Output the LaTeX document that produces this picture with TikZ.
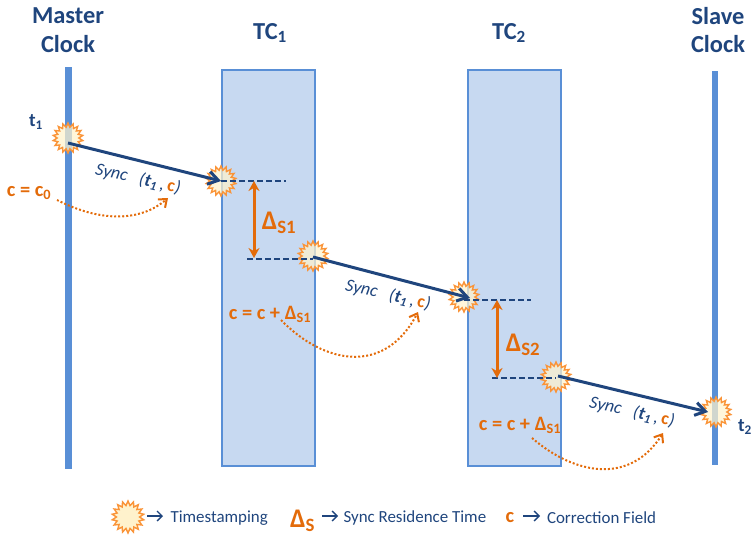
\documentclass[tikz,border=0pt]{standalone}
\usepackage{fontspec}
\setmainfont{Carlito}
\usetikzlibrary{arrows.meta,shapes.geometric}
\definecolor{syncblau}{rgb}{0.12,0.27,0.49}
\definecolor{corrorange}{rgb}{0.89,0.42,0.04}
\definecolor{barblau}{rgb}{0.35,0.56,0.84}
\definecolor{tcblau}{rgb}{0.78,0.85,0.945}
\definecolor{sternrand}{rgb}{0.98,0.58,0.22}
\definecolor{sterngelb}{rgb}{1.0,0.95,0.80}
\newcommand{\fsize}[1]{\fontsize{#1}{#1}\selectfont}
\tikzset{
  stamp/.style={star,star points=18,star point ratio=1.38,minimum size=30bp,inner sep=0pt,
    draw=sternrand,line width=1.4bp,fill=sterngelb,fill opacity=0.72},
  clockbar/.style={fill=barblau,draw=none},
  tcbox/.style={fill=tcblau,draw=barblau,line width=1.5bp},
  syncarrow/.style={line width=3bp,syncblau,-{Straight Barb[length=10bp,width=13bp]}},
  residence/.style={line width=3bp,corrorange,{Stealth[length=10bp,width=11bp]}-{Stealth[length=10bp,width=11bp]}},
  dashline/.style={line width=1.9bp,syncblau,dash pattern=on 6bp off 3bp},
  corrcurve/.style={line width=2bp,corrorange,dash pattern=on 2bp off 2bp,-{Straight Barb[length=7bp,width=11bp]}},
  headtext/.style={font=\bfseries\fsize{24.5},text=syncblau,align=center},
  corrtext/.style={font=\bfseries\fsize{20.5},text=corrorange},
  deltatext/.style={font=\bfseries\fsize{27},text=corrorange},
  synctext/.style={font=\fsize{18},text=syncblau,rotate=-13},
  stamplabel/.style={font=\bfseries\fsize{19},text=syncblau},
  legendtext/.style={font=\fsize{17},text=syncblau,anchor=west},
  legendarrow/.style={line width=1.4bp,syncblau,-{Straight Barb[length=5bp,width=10bp]}},
}
\newcommand{\sublbl}[1]{\textsubscript{#1}}
\newcommand{\synclbl}{\textit{Sync\ \ \ (\textbf{t\sublbl{1}}\,,\,\textbf{\textcolor{corrorange}{\upshape c}})}}
\begin{document}
\begin{tikzpicture}[yscale=-1,x=1bp,y=1bp]
  \useasboundingbox (0,0) rectangle (752,537);

  % --- Zeitachsen ---
  \fill[clockbar] (65,67) rectangle (72,469);
  \draw[tcbox] (222,70) rectangle (315,466);
  \draw[tcbox] (468,70) rectangle (561,466);
  \fill[clockbar] (712,71) rectangle (718,465);

  % --- Kopfzeile ---
  \node[headtext] (master) at (68,30) {Master\\[4pt]Clock};
  \node[headtext] (tcone) at (270,33) {TC\sublbl{1}};
  \node[headtext] (tctwo) at (509,33) {TC\sublbl{2}};
  \node[headtext] (slave) at (718,30) {Slave\\[4pt]Clock};

  % --- Zeitstempel ---
  \node[stamp] (tsm) at (68,138) {};
  \node[stamp] (tsa) at (221,181) {};
  \node[stamp] (tsb) at (313,256) {};
  \node[stamp] (tsc) at (464,297) {};
  \node[stamp] (tsd) at (556,377) {};
  \node[stamp] (tss) at (716,412) {};

  \node[stamplabel] (tone) at (36,122) {t\sublbl{1}};
  \node[stamplabel] (ttwo) at (745,427) {t\sublbl{2}};

  % --- Verweilzeit ---
  \coordinate (dashae) at (286,181);
  \coordinate (dashbs) at (247,259);
  \coordinate (dashce) at (531,300);
  \coordinate (dashds) at (492,378);
  \coordinate (resat) at (254,181);
  \coordinate (resab) at (254,258);
  \coordinate (resbt) at (497,300);
  \coordinate (resbb) at (497,378);
  \draw[dashline] (tsa.center) -- (dashae);
  \draw[dashline] (dashbs) -- (tsb.center |- dashbs);
  \draw[dashline] (tsc.center |- dashce) -- (dashce);
  \draw[dashline] (dashds) -- (tsd.center |- dashds);
  \draw[residence] (resat) -- (resab);
  \draw[residence] (resbt) -- (resbb);
  \node[deltatext] (dsone) at (279,223) {Δ\sublbl{S1}};
  \node[deltatext] (dstwo) at (523,345) {Δ\sublbl{S2}};

  % --- Sync-Nachrichten ---
  \coordinate (syncas) at (68,143);
  \coordinate (syncbs) at (313,257);
  \coordinate (syncbe) at (470,298);
  \coordinate (syncds) at (558,376);
  \coordinate (syncde) at (708,412);
  \draw[syncarrow] (syncas) -- (tsa.center);
  \draw[syncarrow] (syncbs) -- (syncbe);
  \draw[syncarrow] (syncds) -- (syncde);
  \node[synctext] (syncone) at (138,179) {\synclbl};
  \node[synctext] (synctwo) at (388,295) {\synclbl};
  \node[synctext] (syncthree) at (632,412) {\synclbl};

  % --- Korrekturfeld ---
  \node[corrtext] (cnull) at (29,193) {c = c\sublbl{0}};
  \node[corrtext] (cfirst) at (270,314) {c = c + Δ\sublbl{S1}};
  \node[corrtext] (csecond) at (520,425) {c = c + Δ\sublbl{S1}};
  \coordinate (cnullstart) at (57,200);
  \coordinate (cnullend) at (168,198);
  \coordinate (cfirststart) at (281,320);
  \coordinate (cfirstend) at (418,312);
  \coordinate (csecondstart) at (532,438);
  \coordinate (csecondend) at (663,433);
  \draw[corrcurve] (cnullstart) .. controls (100,222) and (140,222) .. (cnullend);
  \draw[corrcurve] (cfirststart) .. controls (325,365) and (385,375) .. (cfirstend);
  \draw[corrcurve] (csecondstart) .. controls (575,475) and (630,485) .. (csecondend);

  % --- Legende ---
  \node[stamp,minimum size=32bp,fill opacity=1] (legstamp) at (128,517) {};
  \coordinate (legaw) at (147,516);
  \coordinate (legae) at (163,516);
  \draw[legendarrow] (legaw) -- (legae);
  \node[legendtext] (legts) at (167,518) {Timestamping};
  \node[deltatext,anchor=west,inner sep=0pt] (legdelta) at (290,521) {Δ\sublbl{S}};
  \coordinate (legbw) at (322,516);
  \coordinate (legbe) at (338,516);
  \draw[legendarrow] (legbw) -- (legbe);
  \node[legendtext] (legres) at (340,518) {Sync Residence Time};
  \node[corrtext] (legc) at (510,518) {c};
  \coordinate (legcw) at (523,516);
  \coordinate (legce) at (540,516);
  \draw[legendarrow] (legcw) -- (legce);
  \node[legendtext] (legcorr) at (543.5,518) {Correction Field};

\end{tikzpicture}
\end{document}
